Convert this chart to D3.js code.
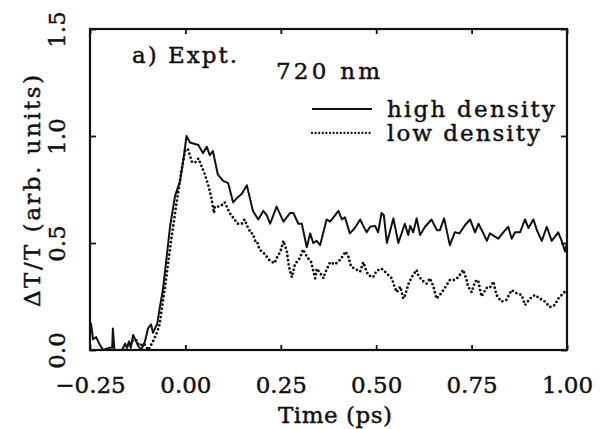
<!DOCTYPE html>
<html>
<head>
<meta charset="utf-8">
<script src="https://cdn.jsdelivr.net/npm/d3@7"></script>
<style>
  html, body { margin: 0; padding: 0; background: #fff; }
  svg text { font-family: "DejaVu Serif", serif; fill: #111; stroke: #111; stroke-width: 0.45px; }
</style>
</head>
<body>
<svg id="chart" width="601" height="429"></svg>
<script>
// ---- data ----
const xTickValues = [-0.25, 0.00, 0.25, 0.50, 0.75, 1.00];
const xTickLabels = ["\u22120.25", "0.00", "0.25", "0.50", "0.75", "1.00"];
const yTickValues = [0.0, 0.5, 1.0, 1.5];
const yTickLabels = ["0.0", "0.5", "1.0", "1.5"];
const seriesNames = ["high density", "low density"];

const highT = [-0.250,-0.247,-0.242,-0.234,-0.226,-0.216,-0.200,-0.192,-0.190,-0.186,-0.177,-0.166,-0.158,-0.153,-0.148,-0.143,-0.137,-0.129,-0.124,-0.116,-0.106,-0.098,-0.090,-0.085,-0.080,-0.074,-0.067,-0.059,-0.050,-0.040,-0.027,-0.014,-0.006,0.003,0.012,0.034,0.046,0.056,0.064,0.072,0.085,0.099,0.112,0.125,0.135,0.148,0.161,0.177,0.191,0.204,0.213,0.222,0.239,0.257,0.274,0.283,0.296,0.305,0.318,0.327,0.335,0.344,0.353,0.370,0.379,0.388,0.401,0.410,0.418,0.431,0.444,0.458,0.466,0.475,0.484,0.497,0.505,0.514,0.520,0.528,0.545,0.558,0.575,0.584,0.589,0.597,0.606,0.615,0.628,0.645,0.659,0.667,0.678,0.693,0.706,0.718,0.733,0.746,0.759,0.768,0.781,0.790,0.798,0.820,0.833,0.846,0.855,0.864,0.877,0.890,0.899,0.912,0.921,0.934,0.947,0.960,0.977,0.986,0.995,1.000];
const highV = [0.13,0.12,0.05,0.06,0.03,0.00,0.01,0.01,0.10,0.00,0.00,0.00,0.03,0.01,0.04,0.01,0.07,0.04,0.02,0.00,0.04,0.10,0.12,0.08,0.10,0.12,0.20,0.28,0.42,0.58,0.72,0.79,0.88,1.00,0.97,0.958,0.92,0.95,0.91,0.93,0.82,0.79,0.78,0.69,0.71,0.73,0.77,0.65,0.61,0.65,0.63,0.59,0.67,0.60,0.64,0.64,0.59,0.59,0.48,0.545,0.50,0.51,0.49,0.61,0.60,0.62,0.65,0.61,0.62,0.545,0.57,0.61,0.58,0.55,0.576,0.58,0.55,0.64,0.63,0.50,0.615,0.50,0.59,0.537,0.58,0.55,0.615,0.537,0.576,0.61,0.56,0.56,0.615,0.49,0.55,0.545,0.584,0.61,0.55,0.59,0.545,0.51,0.545,0.52,0.55,0.576,0.52,0.55,0.55,0.61,0.57,0.61,0.56,0.51,0.576,0.51,0.55,0.51,0.46,0.50];

const lowT = [-0.160,-0.150,-0.143,-0.129,-0.121,-0.108,-0.097,-0.085,-0.081,-0.077,-0.069,-0.066,-0.053,-0.036,-0.023,-0.010,-0.001,0.006,0.017,0.021,0.025,0.034,0.042,0.051,0.060,0.068,0.073,0.075,0.077,0.086,0.099,0.103,0.116,0.137,0.148,0.155,0.163,0.172,0.176,0.185,0.189,0.194,0.207,0.220,0.233,0.241,0.249,0.257,0.266,0.270,0.274,0.279,0.287,0.300,0.309,0.318,0.330,0.335,0.340,0.344,0.353,0.362,0.366,0.379,0.392,0.405,0.420,0.427,0.434,0.444,0.458,0.466,0.472,0.479,0.492,0.501,0.514,0.523,0.532,0.541,0.549,0.554,0.563,0.571,0.576,0.585,0.593,0.606,0.610,0.619,0.632,0.641,0.650,0.658,0.667,0.680,0.693,0.706,0.715,0.728,0.737,0.741,0.750,0.759,0.767,0.776,0.789,0.798,0.807,0.815,0.828,0.841,0.855,0.868,0.881,0.890,0.903,0.916,0.929,0.942,0.955,0.968,0.977,0.986,0.993,1.000];
const lowV = [0.00,0.02,0.04,0.047,0.02,0.03,0.00,0.04,0.056,0.07,0.11,0.14,0.30,0.53,0.69,0.84,0.93,0.94,0.88,0.88,0.875,0.895,0.86,0.82,0.77,0.71,0.66,0.64,0.67,0.67,0.68,0.69,0.64,0.59,0.59,0.61,0.575,0.545,0.545,0.50,0.50,0.47,0.45,0.42,0.405,0.436,0.46,0.51,0.46,0.405,0.37,0.34,0.40,0.43,0.47,0.436,0.41,0.37,0.335,0.38,0.36,0.335,0.36,0.41,0.40,0.42,0.46,0.436,0.39,0.38,0.366,0.41,0.38,0.35,0.34,0.37,0.38,0.366,0.35,0.335,0.29,0.27,0.296,0.24,0.257,0.31,0.34,0.374,0.35,0.327,0.31,0.335,0.296,0.24,0.257,0.29,0.327,0.327,0.34,0.374,0.327,0.296,0.27,0.32,0.327,0.25,0.29,0.29,0.32,0.257,0.226,0.234,0.28,0.265,0.257,0.21,0.24,0.257,0.24,0.226,0.20,0.21,0.24,0.257,0.27,0.26];

// ---- layout ----
const svg = d3.select("#chart");
const L = 90, R = 567, T = 29, B = 350;
const x = d3.scaleLinear().domain([-0.25, 1.0]).range([L, R]);
const y = d3.scaleLinear().domain([0, 1.5]).range([B, T]);

const line = d3.line().x(d => x(d[0])).y(d => y(d[1]));

svg.append("clipPath").attr("id", "clip")
  .append("rect").attr("x", L).attr("y", T).attr("width", R - L).attr("height", B - T);

const plot = svg.append("g").attr("clip-path", "url(#clip)");

plot.append("path")
  .datum(lowT.map((t, i) => [t, lowV[i]]))
  .attr("d", line)
  .attr("fill", "none")
  .attr("stroke", "#111")
  .attr("stroke-width", 2.8)
  .attr("stroke-linecap", "round")
  .attr("stroke-dasharray", "0,4.2");

plot.append("path")
  .datum(highT.map((t, i) => [t, highV[i]]))
  .attr("d", line)
  .attr("fill", "none")
  .attr("stroke", "#111")
  .attr("stroke-width", 2)
  .attr("stroke-linejoin", "round");

// axes (inward ticks)
const tickFont = 23;
const xAxisB = svg.append("g").attr("transform", `translate(0,${B})`)
  .call(d3.axisBottom(x).tickValues(xTickValues).tickFormat((d, i) => xTickLabels[i]).tickSize(-5));
xAxisB.select(".domain").remove();
xAxisB.selectAll("line").attr("stroke", "#111").attr("stroke-width", 1.8);
xAxisB.selectAll("text").attr("y", 43).attr("dy", null)
  .attr("font-size", tickFont).attr("font-family", "DejaVu Serif").attr("fill", "#111");

const xAxisT = svg.append("g").attr("transform", `translate(0,${T})`)
  .call(d3.axisTop(x).tickValues(xTickValues).tickFormat("").tickSize(-5));
xAxisT.select(".domain").remove();
xAxisT.selectAll("line").attr("stroke", "#111").attr("stroke-width", 1.8);

const yAxisL = svg.append("g").attr("transform", `translate(${L},0)`)
  .call(d3.axisLeft(y).tickValues(yTickValues).tickFormat((d, i) => yTickLabels[i]).tickSize(-6));
yAxisL.select(".domain").remove();
yAxisL.selectAll("line").attr("stroke", "#111").attr("stroke-width", 1.8);
yAxisL.selectAll("text")
  .attr("x", null).attr("dy", null)
  .attr("text-anchor", "middle")
  .attr("transform", `translate(${65 - L},0) rotate(-90)`)
  .attr("font-size", tickFont).attr("font-family", "DejaVu Serif").attr("fill", "#111");

const yAxisR = svg.append("g").attr("transform", `translate(${R},0)`)
  .call(d3.axisRight(y).tickValues(yTickValues).tickFormat("").tickSize(-6));
yAxisR.select(".domain").remove();
yAxisR.selectAll("line").attr("stroke", "#111").attr("stroke-width", 1.8);

// frame
svg.append("rect").attr("x", L).attr("y", T).attr("width", R - L).attr("height", B - T)
  .attr("fill", "none").attr("stroke", "#111").attr("stroke-width", 2.2);

// titles
svg.append("text").attr("x", 335).attr("y", 423).attr("text-anchor", "middle")
  .attr("font-size", 23).attr("textLength", 114).attr("lengthAdjust", "spacing")
  .text("Time (ps)");

svg.append("text").attr("transform", "translate(40,191) rotate(-90)").attr("text-anchor", "middle")
  .attr("font-size", 23).attr("textLength", 232).attr("lengthAdjust", "spacing")
  .text("\u0394T/T (arb. units)");

// annotations
svg.append("text").attr("x", 132).attr("y", 63).attr("font-size", 23)
  .attr("textLength", 105).attr("lengthAdjust", "spacing").text("a) Expt.");
svg.append("text").attr("x", 276).attr("y", 79).attr("font-size", 23)
  .attr("textLength", 104).attr("lengthAdjust", "spacing").text("720 nm");

// legend
const legY = [109, 133];
const legText = [117, 141];
const legW = [168, 153];
seriesNames.forEach((name, i) => {
  const l = svg.append("line").attr("x1", 312).attr("x2", 372)
    .attr("y1", legY[i]).attr("y2", legY[i]).attr("stroke", "#111");
  if (i === 0) l.attr("stroke-width", 2);
  else l.attr("stroke-width", 2.3).attr("stroke-linecap", "round").attr("stroke-dasharray", "0,3.6");
  svg.append("text").attr("x", 387).attr("y", legText[i]).attr("font-size", 23)
    .attr("textLength", legW[i]).attr("lengthAdjust", "spacing").text(name);
});
</script>
</body>
</html>
